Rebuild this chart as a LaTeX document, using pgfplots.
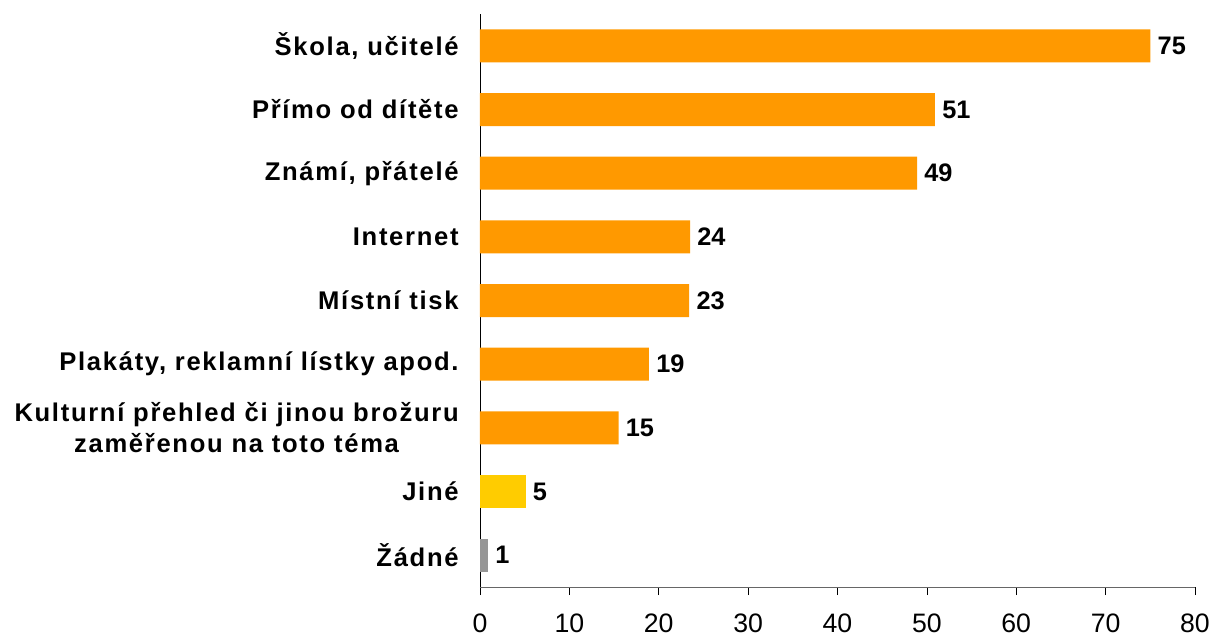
\documentclass[border=0pt]{standalone}
\usepackage{fontspec}
\setmainfont{Liberation Sans}
\newfontfamily\catfont[LetterSpace=6.6]{Liberation Sans}
\usepackage{pgfplots}
\pgfplotsset{compat=1.18}
\definecolor{barorange}{HTML}{FF9900}
\definecolor{baryellow}{HTML}{FFCC00}
\definecolor{bargray}{HTML}{969696}
\begin{document}
\begin{tikzpicture}
\useasboundingbox (-360pt,-39pt) rectangle (551.25pt,440.25pt);
\begin{axis}[
  at={(0,0)}, anchor=south west,
  scale only axis,
  width=536.25pt, height=429.75pt,
  xbar, bar width=24.75pt, bar shift=0pt,
  xmin=0, xmax=80, xtick={0,10,...,80},
  ymin=-0.5, ymax=8.5, y dir=reverse,
  ytick={0,...,8},
  yticklabels={{Škola, učitelé},{Přímo od dítěte},{Známí, přátelé},{Internet},{Místní tisk},{Plakáty, reklamní lístky apod.},{Kulturní přehled či jinou brožuru\\zaměřenou na toto téma},{Jiné},{Žádné}},
  yticklabel style={font=\catfont\fontsize{19.2}{23}\selectfont\bfseries, align=center, xshift=-6.5pt},
  y tick style={draw=none},
  extra y ticks={-0.5,0.5,...,8.5},
  extra y tick labels={},
  extra y tick style={tick style={draw=black, thin}, major tick length=6pt},
  axis x line*=bottom, axis y line*=left,
  x axis line style={draw=black!60, -}, y axis line style={draw=black, -},
  tick align=outside, major tick length=6pt,
  x tick style={draw=black, thin},
  xticklabel style={font=\fontsize{20}{24}\selectfont, yshift=-10.5pt},
  /pgf/number format/assume math mode=true,
  nodes near coords, point meta=explicit symbolic,
  every node near coord/.style={font=\fontsize{19}{22}\selectfont\bfseries, anchor=west, xshift=2pt, black},
  clip=false,
]
\addplot[fill=barorange, draw=none] coordinates {
  (75,0) [75]
  (50.9,1) [51]
  (48.9,2) [49]
  (23.5,3) [24]
  (23.4,4) [23]
  (18.9,5) [19]
  (15.5,6) [15]
};
\addplot[fill=baryellow, draw=none] coordinates {(5.1,7) [5]};
\addplot[fill=bargray, draw=none] coordinates {(0.9,8) [1]};
\end{axis}
\end{tikzpicture}
\end{document}
